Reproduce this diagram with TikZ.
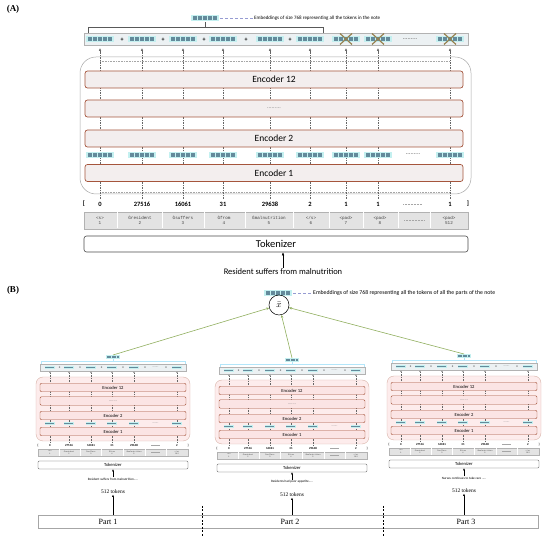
\documentclass[tikz,border=0pt]{standalone}
\usepackage{fontspec}
\setmainfont{Liberation Serif}
\setsansfont{Carlito}
\setmonofont{Liberation Mono}
\usetikzlibrary{arrows.meta, positioning, calc}
\definecolor{cTeal}{RGB}{196,240,240}
\definecolor{cChip}{RGB}{100,138,155}
\definecolor{cRow}{RGB}{236,241,243}
\definecolor{cEnc}{RGB}{243,238,238}
\definecolor{cEncPink}{RGB}{251,228,228}
\definecolor{cEncB}{RGB}{165,85,60}
\definecolor{cPink}{RGB}{253,236,236}
\definecolor{cCross}{RGB}{150,130,80}
\definecolor{cLink}{RGB}{145,175,95}
\definecolor{cDash}{RGB}{150,155,210}
\newcommand{\fs}[1]{\fontsize{#1}{1.15\dimexpr#1pt\relax}\selectfont}
\tikzset{
	chip/.pic={
		\fill[cTeal] (-14,-3.3) rectangle (14,3.3);
		\foreach \k in {0,...,4}
			\fill[cChip] (-12.4+5*\k,-1.7) rectangle ++(4.2,3.4);
	},
	panel/.style    ={font=\bfseries\fs{9}},
	embtxt/.style   ={font=\sffamily\fs{5}, inner sep=0pt, anchor=west},
	dashlink/.style ={cDash, densely dashed, line width=0.4pt},
	bracket/.style  ={gray!70!black, line width=0.5pt},
	outrow/.style   ={rectangle, draw=gray!60, fill=cRow, minimum width=384pt, minimum height=12pt, inner sep=0pt},
	plus/.style     ={font=\sffamily\bfseries\fs{6}, inner sep=0pt},
	cross/.style    ={cCross, line width=1.2pt},
	colarrow/.style ={-{Latex[length=3pt,width=2.4pt]}, gray!80!black, line width=0.4pt, dash pattern=on 1.5pt off 1pt},
	dotline/.style  ={gray!70, line width=0.4pt, dash pattern=on 0.8pt off 0.8pt},
	stack/.style    ={draw=gray!70, rounded corners=16pt, line width=0.5pt},
	encbox/.style   ={rectangle, rounded corners=2.5pt, draw=cEncB, fill=cEnc, line width=0.7pt, minimum width=378pt, minimum height=17pt, font=\sffamily\fs{9.5}},
	numtxt/.style   ={font=\sffamily\bfseries\fs{6.5}, inner sep=0pt},
	tokrow/.style   ={rectangle, draw=gray!60, fill=gray!22, minimum width=384pt, minimum height=17pt, inner sep=0pt},
	toktxt/.style   ={font=\ttfamily\fs{4.3}, align=center, inner sep=0pt, text=black!75},
	tkzbox/.style   ={rectangle, rounded corners=2.5pt, draw=gray!60!black, fill=white, line width=0.6pt, minimum width=384pt, minimum height=16pt, font=\sffamily\fs{10.5}},
	sentxt/.style   ={font=\sffamily\fs{8.5}, inner sep=1pt},
	arr/.style      ={-{Latex[length=3pt,width=2.6pt]}, black, line width=0.5pt},
	% small blocks of part (B)
	tealbr/.style   ={cyan!30, line width=0.5pt},
	outsmall/.style ={rectangle, draw=gray!60, fill=cRow, minimum width=146pt, minimum height=6.5pt, inner sep=0pt, line width=0.3pt},
	plussmall/.style={font=\sffamily\bfseries\fs{3}, inner sep=0pt},
	colsmall/.style ={-{Latex[length=1.5pt,width=1.3pt]}, gray!80!black, line width=0.25pt, dash pattern=on 1pt off 0.6pt},
	stacksmall/.style={draw=cEncB!45, fill=cPink, rounded corners=7pt, line width=0.4pt},
	encsmall/.style ={rectangle, rounded corners=1.2pt, draw=cEncB, fill=cEncPink, line width=0.45pt, minimum width=146pt, minimum height=8.5pt, inner sep=0pt, font=\sffamily\fs{4.6}},
	numsmall/.style ={font=\sffamily\bfseries\fs{3}, inner sep=0pt},
	toksmall/.style ={rectangle, draw=gray!60, fill=gray!22, minimum width=150pt, minimum height=7.5pt, inner sep=0pt, line width=0.3pt},
	toksmalltxt/.style={font=\ttfamily\fs{1.9}, align=center, inner sep=0pt, text=black!75},
	tkzsmall/.style ={rectangle, rounded corners=1.2pt, draw=gray!60!black, fill=white, line width=0.4pt, minimum width=150pt, minimum height=8pt, inner sep=0pt, font=\sffamily\fs{4.6}},
	sensmall/.style ={font=\sffamily\fs{3.3}, inner sep=0.5pt},
	cnttxt/.style   ={font=\fs{5.5}, inner sep=0.5pt},
	arrsmall/.style ={-{Latex[length=2.2pt,width=2pt]}, black, line width=0.4pt},
	partbar/.style  ={rectangle, draw=gray!70, fill=white, minimum width=500pt, minimum height=13pt, inner sep=0pt, line width=0.5pt},
	partlbl/.style  ={font=\fs{8}, inner sep=0pt},
	sep/.style      ={black, line width=0.8pt, dash pattern=on 2pt off 1.5pt},
	link/.style     ={-{Stealth[length=3pt,width=2.6pt]}, cLink, line width=0.6pt},
	agg/.style      ={circle, draw=black, line width=0.5pt, minimum size=20pt, inner sep=0pt, font=\fs{9}},
}
% one small BERT block of part (B)
\newcommand{\partblock}[4]{%
	\begin{scope}[shift={(#2,#3)}]
		\draw[tealbr] (41,365) |- (185,361) -- (185,365);
		\draw[tealbr] (113,361) -- (113,359);
		\pic[scale=0.5] at (113,357) {chip};
		\coordinate (#1-top) at (113,355);
		\node[outsmall] (#1-out) at (113,367.5) {};
		\foreach \x in {50,69,91,112,134,177}
			\pic[scale=0.37] at (\x,367.5) {chip};
		\foreach \x in {59.5,80,101.5,123,145,166}
			\node[plussmall] at (\x,367.8) {+};
		\node[plussmall, gray] at (155.5,367.3) {.......};
		\draw[stacksmall] (36,377) rectangle (190,441);
		\foreach \x in {50,69,91,112,134,177}
			\draw[colsmall] (\x,443) -- (\x,371.5);
		\node[encsmall] (#1-e12) at (113,387.5) {Encoder 12};
		\node[encsmall] (#1-ed) at (113,401) {\textcolor{gray}{.......}};
		\node[encsmall] (#1-e2) at (113,415.5) {Encoder 2};
		\foreach \x in {50,69,91,112,134,177}
			\pic[scale=0.37] at (\x,423.5) {chip};
		\node[plussmall, gray] at (155.5,423) {.......};
		\node[encsmall] (#1-e1) at (113,431.5) {Encoder 1};
		\foreach \x/\t in {38/[,50/0,69/27516,91/16061,112/31,134/29638,177/2,188/]}
			\node[numsmall] at (\x,445.5) {\t};
		\draw[gray!70, line width=0.3pt] (151,445.5) -- (160,445.5);
		\node[toksmall] (#1-tok) at (113,452.5) {};
		\foreach \x in {59.5,80,101.5,123,145,166}
			\draw[white, line width=0.4pt] (\x,449) -- (\x,456);
		\foreach \x/\a/\b in {50/{<s>}/1,69/{Ġresident}/2,91/{Ġsuffers}/3,112/{Ġfrom}/4,134/{Ġmalnutrition}/5,177/{</s>}/512}
			\node[toksmalltxt] at (\x,452.5) {\a\\\b};
		\draw[gray!70, line width=0.3pt] (151,452.5) -- (160,452.5);
		\node[tkzsmall] (#1-tkz) at (113,465) {Tokenizer};
		\node[sensmall] (#1-sen) at (113,479) {#4};
		\draw[arrsmall] (#1-sen) -- (#1-tkz);
		\node[cnttxt] (#1-cnt) at (113,492) {512 tokens};
	\end{scope}}

\begin{document}
\begin{tikzpicture}[x=1pt, y=-1pt]
	\useasboundingbox (0,0) rectangle (550,537);
	%% (A)
	\node[panel] (la) at (13,9) {(A)};
	\pic at (205,18) {chip};
	\coordinate (ca) at (220,18);
	\node[embtxt] (ea) at (254,18) {Embeddings of size 768 representing all the tokens in the note};
	\draw[dashlink] (ca) -- (ea.west);
	\draw[bracket] (88,33) |- (323,27) -- (323,33);
	\draw[bracket] (205,27) -- (205,22);
	\node[outrow] (outA) at (276,39) {};
	\foreach \x in {100,142,183,223,270,310,346,378,450}
		\pic at (\x,39) {chip};
	\foreach \x in {122,163,204,246,290}
		\node[plus] at (\x,40) {+};
	\node[plus, gray] at (410,39) {.........};
	\foreach \x in {346,378,450}
		\draw[cross] (\x-6,33.5) -- (\x+6,44.5) (\x-6,44.5) -- (\x+6,33.5);
	% encoder stack
	\draw[stack] (80,57) rectangle (471,194);
	\draw[dotline] (100,61) -- (450,61) (100,192) -- (450,192);
	\foreach \x in {100,142,183,223,270,310,346,378,450}
		\draw[colarrow] (\x,199) -- (\x,48);
	\node[encbox] (e12) at (274,79.5) {Encoder 12};
	\node[encbox] (ed) at (274,108.5) {\textcolor{gray}{\fs{6}.........}};
	\node[encbox] (e2) at (274,138.5) {Encoder 2};
	\foreach \x in {100,142,183,223,270,310,346,378,450}
		\pic at (\x,155) {chip};
	\node[plus, gray] at (413,154) {.........};
	\node[encbox] (e1) at (274,173) {Encoder 1};
	% ids and tokens
	\foreach \x/\t in {84/[,100/0,142/27516,183/16061,223/31,270/29638,310/2,346/1,378/1,450/1,468/]}
		\node[numtxt] at (\x,204) {\t};
	\draw[gray!70, line width=0.4pt, dash pattern=on 1pt off 0.5pt] (403,204) -- (422,204);
	\node[tokrow] (tokA) at (276,220.5) {};
	\foreach \x in {117,162,204,245,293,329,363,398,430}
		\draw[white, line width=0.8pt] (\x,212.5) -- (\x,228.5);
	\foreach \x/\a/\b in {100/{<s>}/1,140/{Ġresident}/2,183/{Ġsuffers}/3,224/{Ġfrom}/4,269/{Ġmalnutrition}/5,311/{</s>}/6,346/{<pad>}/7,380/{<pad>}/8,449/{<pad>}/512}
		\node[toktxt] at (\x,220.5) {\a\\\b};
	\draw[gray!70, line width=0.4pt, dash pattern=on 1pt off 0.5pt] (404,220.5) -- (424,220.5);
	\node[tkzbox] (tkA) at (276,244) {Tokenizer};
	\node[sentxt] (sA) at (283,272) {Resident suffers from malnutrition};
	\draw[arr] (sA.north) -- (sA.north |- tkA.south);
	%% (B)
	\node[panel] (lb) at (13,290) {(B)};
	\pic at (278,293) {chip};
	\coordinate (cb) at (293,293);
	\node[embtxt, font=\sffamily\fs{5.8}] (eb) at (313,293) {Embeddings of size 768 representing all the tokens of all the parts of the note};
	\draw[dashlink] (cb) -- (eb.west);
	\node[agg] (xbar) at (279,305) {$\bar{x}$};
	\partblock{L}{0}{0}{Resident suffers from malnutrition.....}
	\partblock{M}{179}{3}{Residents had poor appetite.....}
	\partblock{R}{351}{-1}{Nurses continues to take care .....}
	\draw[link] (L-top) -- (xbar);
	\draw[link] (M-top) -- (xbar);
	\draw[link] (R-top) -- (xbar);
	% note split into parts
	\node[partbar] (bar) at (288,521.5) {};
	\node[partlbl] (p1) at (108,521.5) {Part 1};
	\node[partlbl] (p2) at (290,521.5) {Part 2};
	\node[partlbl] (p3) at (466,521.5) {Part 3};
	\draw[sep] (202,506) -- (202,536);
	\draw[sep] (383,506) -- (383,536);
	\draw[arrsmall] (L-cnt |- bar.north) -- (L-cnt);
	\draw[arrsmall] (M-cnt |- bar.north) -- (M-cnt);
	\draw[arrsmall] (R-cnt |- bar.north) -- (R-cnt);
\end{tikzpicture}
\end{document}
